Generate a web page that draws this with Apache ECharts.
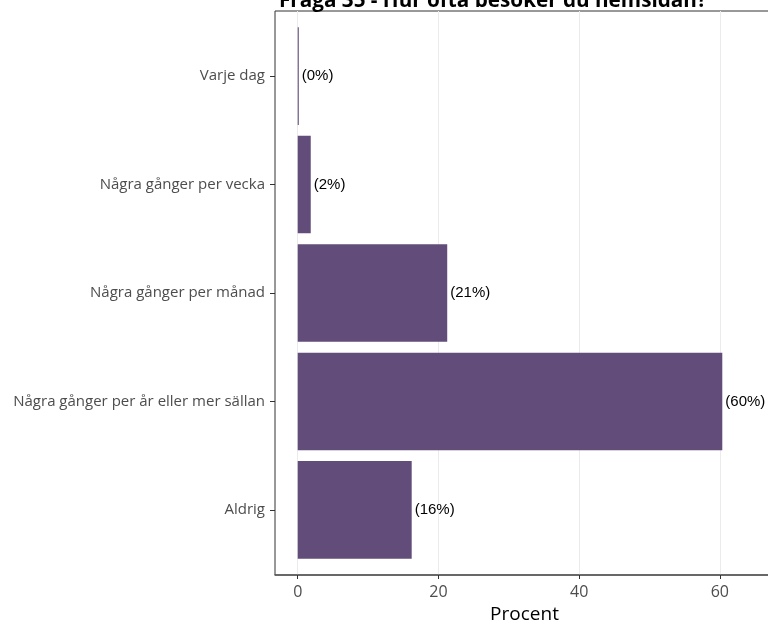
<!DOCTYPE html>
<html>
<head>
<meta charset="utf-8">
<script src="https://cdn.jsdelivr.net/npm/echarts@6/dist/echarts.min.js"></script>
<style>
  html, body { margin: 0; padding: 0; background: #fff; }
  #main { width: 768px; height: 624px; }
</style>
</head>
<body>
<div id="main"></div>
<script>
// Fråga 35 - hur ofta besöker du hemsidan
var categories = ['Varje dag', 'Några gånger per vecka', 'Några gånger per månad', 'Några gånger per år eller mer sällan', 'Aldrig']
var percent = [0.15, 1.85, 21.25, 60.35, 16.2]
var xTicks = [0, 20, 40, 60]

var xMin = -3.23
var xMax = 67.7
var font = 'Open Sans'

var myChart = echarts.init(document.getElementById('main'));

var option = {
  animation: false,
  title: {
    text: 'Fråga 35 - Hur ofta besöker du hemsidan?',
    left: 274,
    top: -14,
    textStyle: { fontFamily: font, fontWeight: 'bold', fontSize: 20.7, color: '#000' }
  },
  grid: [
    // inner grid holding the bars (ggplot style padding on the category axis)
    { left: 275, width: 499, top: 21.85, height: 542.3, outerBoundsMode: 'none' },
    // full panel with border and grid lines
    { left: 275, width: 499, top: 11, height: 564, outerBoundsMode: 'none',
      show: true, borderColor: '#333', borderWidth: 1 }
  ],
  xAxis: [
    {
      gridIndex: 0, type: 'value', min: xMin, max: xMax,
      show: false
    },
    {
      gridIndex: 1, type: 'value', min: xMin, max: xMax, splitNumber: 7,
      name: 'Procent',
      nameLocation: 'middle',
      nameGap: 29,
      nameTextStyle: { fontFamily: font, fontSize: 19, color: '#000' },
      axisLine: { show: true, onZero: false, lineStyle: { color: '#5a5a5a', width: 1.5 } },
      axisTick: { show: true, length: 4, customValues: xTicks, lineStyle: { color: '#333' } },
      axisLabel: { customValues: xTicks, margin: 9, fontFamily: font, fontSize: 16, color: '#4d4d4d' },
      splitLine: { show: true, lineStyle: { color: '#ebebeb', width: 1 } }
    }
  ],
  yAxis: [
    {
      gridIndex: 0, type: 'category', inverse: true,
      data: categories,
      axisLine: { show: false, onZero: false },
      axisTick: { show: true, length: 5, alignWithLabel: true, lineStyle: { color: '#333' } },
      axisLabel: { margin: 10, fontFamily: font, fontSize: 15, color: '#4d4d4d' },
      splitLine: { show: false }
    },
    {
      gridIndex: 1, type: 'value', show: false
    }
  ],
  series: [
    {
      type: 'bar',
      xAxisIndex: 0,
      yAxisIndex: 0,
      data: percent,
      barCategoryGap: '10%',
      itemStyle: { color: '#614c7a' },
      label: {
        show: true,
        position: 'right',
        distance: 3,
        fontFamily: 'Liberation Sans',
        fontSize: 15,
        color: '#000',
        formatter: function (p) { return '(' + Math.round(p.value) + '%)' }
      }
    }
  ]
};

myChart.setOption(option)
</script>
</body>
</html>
